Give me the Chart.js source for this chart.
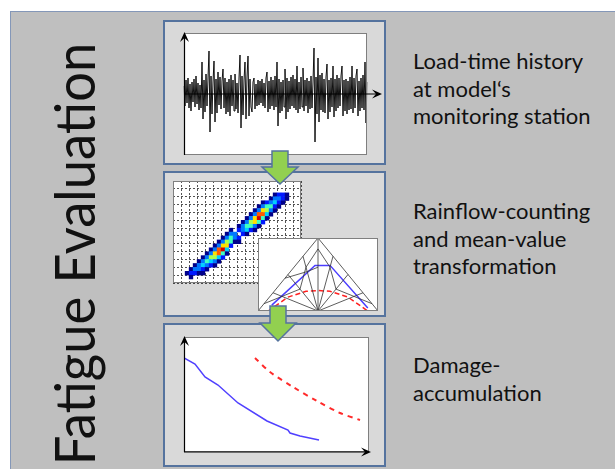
<!DOCTYPE html>
<html>
<head>
<meta charset="utf-8">
<script src="https://cdn.jsdelivr.net/npm/chart.js@4.4.1/dist/chart.umd.min.js"></script>
<style>
  html, body { margin: 0; padding: 0; background: #fff; }
  body { width: 615px; height: 469px; position: relative; overflow: hidden; font-family: Lato, "Open Sans", sans-serif; color: #111; }
  .frame { position: absolute; left: 10px; top: 11px; width: 620px; height: 470px; background: #bfbfbf; border-left: 1px solid #8497b8; border-top: 1px solid #8497b8; }
  .box { position: absolute; left: 163px; width: 223px; box-sizing: border-box; background: #d9d9d9; border: 2px solid #55739e; }
  canvas { position: absolute; }
  .lbl { position: absolute; left: 413px; font-size: 22px; line-height: 27.5px; white-space: nowrap; }
  #title { position: absolute; left: 74px; top: 254px; font-size: 56px; line-height: 56px; white-space: nowrap; transform-origin: 50% 50%; }
  svg { position: absolute; left: 0; top: 0; z-index: 10; }
</style>
</head>
<body>
<div class="frame"></div>
<div id="title">Fatigue Evaluation</div>

<div class="box" style="top:20px;height:145px"></div>
<div class="box" style="top:171px;height:146px"></div>
<div class="box" style="top:323px;height:144px"></div>

<canvas id="load-chart" width="212" height="136" style="left:176px;top:24px"></canvas>
<canvas id="rainflow-chart" width="136" height="110" style="left:169px;top:177px"></canvas>
<canvas id="haigh-chart" width="122" height="75" style="left:257px;top:237px"></canvas>
<canvas id="damage-chart" width="200" height="130" style="left:176px;top:329px"></canvas>

<div class="lbl" style="top:47px">Load-time history<br>at model‘s<br>monitoring station</div>
<div class="lbl" style="top:197px">Rainflow-counting<br>and mean-value<br>transformation</div>
<div class="lbl" style="top:351px">Damage-<br>accumulation</div>

<svg width="615" height="469">
  <polygon points="272,151 288,151 288,167 298,167 280,184 262,167 272,167" fill="#92d050" stroke="#55739e" stroke-width="1.5"/>
  <polygon points="270,306 286,306 286,323 296,323 278,341 260,323 270,323" fill="#92d050" stroke="#55739e" stroke-width="1.5"/>
</svg>

<script>
// Load-time history at the monitoring station, one reading per time step
const loadSignal = [
  8, -12, 14, -9, 16, -14, 10, -17, 12, -8, 15, -13, 18, -10, 11, -16, 9, -14, 32, -25,
  14, -18, 20, -12, 16, 43, -38, 18, -20, 12, 33, -28, 15, -19, 22, -11, 17, -15, 13, 25,
  -14, 16, -20, 12, -18, 15, -22, 19, -12, 14, -17, 20, -15, 11, -19, 16, 39, -34, 18, -21,
  14, 32, -25, 17, 38, -22, 15, -13, -18, 12, 16, -15, 10, -12, 14, -11, 13, -9, 15, -12,
  11, -14, 16, 22, -18, 13, -15, 17, -12, 14, -16, 18, -13, 32, -32, 15, -19, 12, -17, 14,
  -13, 25, -25, 16, -18, 13, -15, 17, -12, 19, -14, 15, -16, 28, -19, 12, -15, 17, -13, 26,
  -17, 14, -12, 16, -19, 13, -15, 18, -14, 12, 46, -48, 17, -20, 36, -28, 19, -16, 21, -18,
  15, -19, 17, 30, -25, 14, -18, 16, -13, 28, -23, 15, -17, 19, -14, 16, -12, 18, 28, -22,
  14, -17, 15, -20, 13, -16, 17, -15, 28, -19, 16, -14, 18, 25, -22, 13, -17, 16, -14, 19,
  -16, 32, -29, 12
];
const loadRange = [-61, 61];

// Rainflow matrix: [row from top, first column, level per cell] (32 x 26 cells)
const rainflowCols = 32;
const rainflowRows = 26;
const rainflowBands = [
  [3, 25, '1221'],
  [4, 24, '13321'],
  [5, 22, '123421'],
  [6, 21, '135521'],
  [7, 20, '137631'],
  [8, 19, '138841'],
  [9, 18, '137951'],
  [10, 17, '136752'],
  [11, 16, '135531'],
  [12, 14, '1023421'],
  [13, 13, '133021'],
  [14, 12, '13532'],
  [15, 11, '136511'],
  [16, 10, '13772'],
  [17, 9, '13894'],
  [18, 8, '137851'],
  [19, 7, '136642'],
  [20, 6, '135431'],
  [21, 5, '134321'],
  [22, 4, '13321'],
  [23, 3, '12211'],
  [24, 4, '1']
];
const rainflowColors = ['rgba(0,0,0,0)', '#00008b', '#0018ff', '#0078ff', '#00d0ff',
  '#40ffc0', '#a8ff50', '#ffe000', '#ff5a00', '#d00000'];

// Haigh diagram (mean-value transformation), x = mean stress, y = amplitude
const haighOutline = [[-1, 0], [0, 1], [1, 0]];
const haighRayEnds = [[-0.75, 0.25], [-0.5, 0.5], [-0.25, 0.75], [0, 1], [0.25, 0.75], [0.5, 0.5], [0.75, 0.25]];
const haighWebs = [
  [[-0.9, 0.1], [-0.3, 0.3], [-0.2, 0.6], [0, 0.85], [0.2, 0.6], [0.3, 0.3], [0.9, 0.1]],
  [[-0.55, 0.45], [-0.18, 0.54], [0, 0.6]]
];
const haighBlue = [[-0.77, 0.08], [-0.05, 0.625], [0.2, 0.625], [0.83, 0.04]];
const haighRed = [[-0.83, 0], [-0.5, 0.19], [-0.2, 0.27], [0, 0.28], [0.2, 0.27], [0.5, 0.19], [0.83, 0]];

// Damage accumulation curves
const damageBlueX = [0, 11, 21, 34, 54, 83, 104, 106, 116, 135];
const damageBlueY = [94, 88, 75, 67, 49, 31, 22, 19, 16, 12];
const damageRedX = [71, 86, 109, 133, 156, 176];
const damageRedY = [94, 80, 65, 51, 39, 32];

// White plotting area, grey frame and black axis arrows
function drawArrow(ctx, x0, y0, x1, y1) {
  const ang = Math.atan2(y1 - y0, x1 - x0);
  ctx.save();
  ctx.strokeStyle = '#000';
  ctx.fillStyle = '#000';
  ctx.lineWidth = 1.2;
  ctx.beginPath();
  ctx.moveTo(x0, y0);
  ctx.lineTo(x1 - Math.cos(ang) * 5, y1 - Math.sin(ang) * 5);
  ctx.stroke();
  ctx.translate(x1, y1);
  ctx.rotate(ang);
  ctx.beginPath();
  ctx.moveTo(0, 0);
  ctx.lineTo(-10, -4.5);
  ctx.lineTo(-6, 0);
  ctx.lineTo(-10, 4.5);
  ctx.closePath();
  ctx.fill();
  ctx.restore();
}

const panelPlugin = {
  id: 'panel',
  beforeDraw(chart) {
    const { ctx, chartArea: a } = chart;
    ctx.save();
    ctx.fillStyle = '#fff';
    ctx.fillRect(a.left, a.top, a.width, a.height);
    ctx.restore();
  },
  afterDraw(chart, args, opts) {
    const { ctx, chartArea: a } = chart;
    ctx.save();
    ctx.strokeStyle = '#7f7f7f';
    ctx.lineWidth = 1;
    ctx.strokeRect(a.left + 0.5, a.top + 0.5, a.width - 1, a.height - 1);
    ctx.restore();
    if (opts.axes) {
      const y0 = chart.scales.y.getPixelForValue(opts.xAxisAt);
      drawArrow(ctx, a.left, y0, a.right + opts.xOver, y0);
      drawArrow(ctx, a.left + 0.5, a.bottom, a.left + 0.5, a.top - opts.yOver);
    }
  }
};

function baseOptions(padding, panel) {
  return {
    responsive: false,
    animation: false,
    events: [],
    layout: { padding: padding },
    plugins: { legend: { display: false }, tooltip: { enabled: false }, panel: panel },
    elements: { point: { radius: 0 } }
  };
}

// Chart 1: load-time history
const loadOptions = baseOptions({ left: 8, top: 9, right: 21, bottom: 5 }, { axes: true, xAxisAt: 0, xOver: 15, yOver: 1 });
loadOptions.scales = {
  x: { display: false },
  y: { display: false, min: loadRange[0], max: loadRange[1] }
};
new Chart(document.getElementById('load-chart'), {
  type: 'line',
  data: {
    labels: loadSignal.map((v, i) => i),
    datasets: [{ data: loadSignal, borderColor: '#111', borderWidth: 1, tension: 0 }]
  },
  options: loadOptions,
  plugins: [panelPlugin]
});

// Chart 2: rainflow matrix as square cells
const rainflowCells = [];
rainflowBands.forEach(([row, col, levels]) => {
  levels.split('').forEach((ch, k) => {
    const v = Number(ch);
    if (v > 0) rainflowCells.push({ x: (col + k + 0.5) * 0.5, y: 13 - (row + 0.5) * 0.5, v: v });
  });
});
const rainflowOptions = baseOptions(1, {});
const gridStyle = { color: 'rgba(0,0,0,0.85)', lineWidth: 0.8, drawTicks: false };
rainflowOptions.scales = {
  x: { type: 'linear', min: 0, max: rainflowCols / 2, ticks: { display: false, stepSize: 1 }, grid: gridStyle, border: { display: false, dash: [2, 2] } },
  y: { type: 'linear', min: 0, max: rainflowRows / 2, ticks: { display: false, stepSize: 1 }, grid: gridStyle, border: { display: false, dash: [2, 2] } }
};
new Chart(document.getElementById('rainflow-chart'), {
  type: 'scatter',
  data: {
    datasets: [{
      data: rainflowCells,
      pointStyle: 'rect',
      pointRadius: ctx => ctx.chart.chartArea ? ctx.chart.chartArea.width / rainflowCols / Math.SQRT2 + 0.25 : 3,
      pointBorderWidth: 0,
      pointBackgroundColor: ctx => rainflowColors[ctx.raw ? ctx.raw.v : 0]
    }]
  },
  options: rainflowOptions,
  plugins: [panelPlugin]
});

// Chart 3: Haigh diagram
const toPts = arr => arr.map(([x, y]) => ({ x: x, y: y }));
const haighLine = (pts, color, width, dash) => ({ data: toPts(pts), showLine: true, borderColor: color, borderWidth: width, borderDash: dash || [], pointRadius: 0 });
const haighSets = [haighLine(haighOutline, '#333', 0.8)];
haighRayEnds.forEach(p => haighSets.push(haighLine([[0, 0], p], '#333', 0.8)));
haighWebs.forEach(w => haighSets.push(haighLine(w, '#333', 0.8)));
haighSets.push(haighLine(haighBlue, '#4a3cff', 1.5));
haighSets.push(haighLine(haighRed, '#ff2020', 1.5, [5, 3]));
const haighOptions = baseOptions(1, {});
haighOptions.scales = {
  x: { type: 'linear', display: false, min: -1, max: 1 },
  y: { type: 'linear', display: false, min: 0, max: 1 }
};
new Chart(document.getElementById('haigh-chart'), {
  type: 'scatter',
  data: { datasets: haighSets },
  options: haighOptions,
  plugins: [panelPlugin]
});

// Chart 4: damage accumulation
const damageOptions = baseOptions({ left: 8, top: 8, right: 7, bottom: 7 }, { axes: true, xAxisAt: 0, xOver: 2, yOver: 1 });
damageOptions.scales = {
  x: { type: 'linear', display: false, min: 0, max: 185 },
  y: { type: 'linear', display: false, min: 0, max: 115 }
};
new Chart(document.getElementById('damage-chart'), {
  type: 'scatter',
  data: {
    datasets: [
      { data: damageBlueX.map((x, i) => ({ x: x, y: damageBlueY[i] })), showLine: true, borderColor: '#5040ff', borderWidth: 1.5, pointRadius: 0 },
      { data: damageRedX.map((x, i) => ({ x: x, y: damageRedY[i] })), showLine: true, borderColor: '#ff2a2a', borderWidth: 2, borderDash: [5, 5], tension: 0.3, pointRadius: 0 }
    ]
  },
  options: damageOptions,
  plugins: [panelPlugin]
});

// Fit the vertical title to the height it takes in the slide
const title = document.getElementById('title');
const k = 422 / title.offsetWidth;
title.style.transform = 'translate(-50%, -50%) rotate(-90deg) scaleX(' + k + ')';
</script>
</body>
</html>
